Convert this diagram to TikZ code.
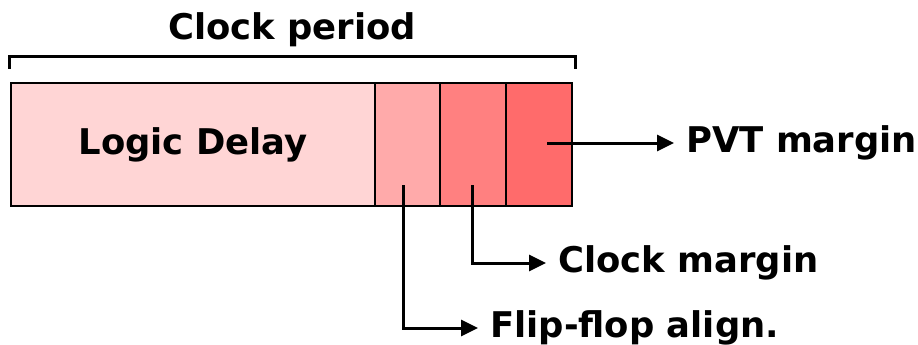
\documentclass[tikz,border=0pt]{standalone}
\usepackage{fontspec}
\setmainfont{DejaVu Sans}
\usetikzlibrary{arrows.meta}
\definecolor{segA}{HTML}{FFD5D5}
\definecolor{segB}{HTML}{FFAAAA}
\definecolor{segC}{HTML}{FF8080}
\definecolor{segD}{HTML}{FF6B6B}
\begin{document}
\begin{tikzpicture}[x=1pt,y=-1pt,
  txt/.style={font=\fontsize{35.4}{42}\selectfont\bfseries},
  seg/.style={txt, draw=black, line width=2pt, inner sep=0pt, minimum height=123pt},
  lbl/.style={txt, anchor=west, inner xsep=12pt, inner ysep=0pt},
  conn/.style={line width=3pt, -{Triangle[length=17pt,width=16pt]}},
  bracket/.style={line width=3pt}]
\useasboundingbox (0,0) rectangle (918,345);

% time segments of one clock period
\node[seg, fill=segA, minimum width=364pt] (logic) at (193,144.5) {Logic Delay};
\node[seg, fill=segB, minimum width=65pt] (ff) at (407.5,144.5) {};
\node[seg, fill=segC, minimum width=66pt] (clk) at (473,144.5) {};
\node[seg, fill=segD, minimum width=66pt] (pvt) at (539,144.5) {};

% clock period bracket
\node[txt] (period) at (292,30) {Clock period};
\draw[bracket] (9,69) -- (9,57) -- (575,57) -- (575,69);

% labels
\node[lbl] (pvtl) at (674,143) {PVT margin};
\node[lbl] (clkl) at (546,263) {Clock margin};
\node[lbl] (ffl) at (478,328) {Flip-flop align.};

% leader arrows
\coordinate (pvts) at (547,143);
\coordinate (clks) at (472,185);
\coordinate (ffs) at (403,185);
\draw[conn] (pvts) -- (pvtl.west);
\draw[conn] (clks) |- (clkl.west);
\draw[conn] (ffs) |- (ffl.west);
\end{tikzpicture}
\end{document}
